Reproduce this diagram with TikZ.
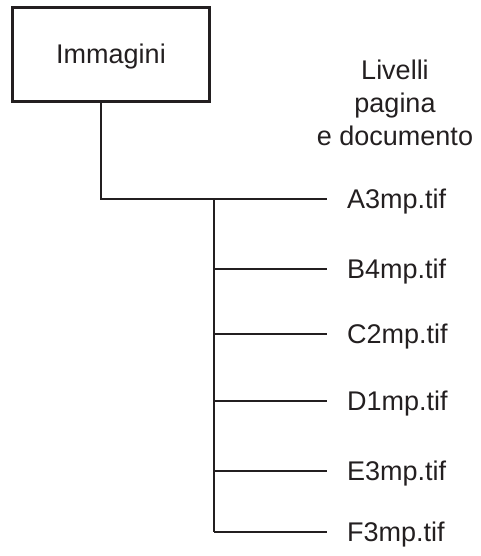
\documentclass[tikz,border=0pt]{standalone}
\usepackage{fontspec}
\setmainfont{Liberation Sans}
\usetikzlibrary{calc}
\definecolor{inkgray}{RGB}{35,31,32}

\begin{document}
\begin{tikzpicture}[x=1pt,y=-1pt,
    treebox/.style={draw=inkgray,text=inkgray,line width=2.8pt,minimum width=197pt,
      minimum height=94pt,inner sep=0pt,text height=19pt,text depth=0pt,
      font=\fontsize{27}{33}\selectfont},
    leafname/.style={anchor=west,inner xsep=20pt,inner ysep=0pt,text=inkgray,
      text height=19pt,text depth=0pt,font=\fontsize{27}{33}\selectfont},
    twig/.style={draw=inkgray,line width=2.8pt}]
  \useasboundingbox (0,0) rectangle (480,556);
  % root and heading
  \node[treebox] (root) at (111,54.5) {Immagini};
  \node[anchor=north,inner sep=0pt,align=center,text=inkgray,
    font=\fontsize{27}{33}\selectfont] (levels) at (395,60)
    {Livelli\\pagina\\e documento};
  \coordinate (knee) at (101,199);
  \coordinate (trunk) at (214,199);
  \draw[twig] (root.south -| knee) -- (knee) -- (trunk);
  % files
  \foreach \nm/\yy in {A3/199,B4/269,C2/334,D1/401,E3/471,F3/532}{
    \coordinate (t\nm) at (214,\yy);
    \node[leafname] (f\nm) at (327,\yy) {\nm mp.tif};
    \draw[twig] (t\nm) -- (f\nm.west);
  }
  \draw[twig] (tA3) -- (tF3);
\end{tikzpicture}
\end{document}
